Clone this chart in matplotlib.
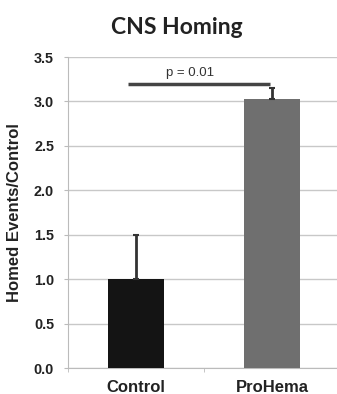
import matplotlib
matplotlib.use("Agg")
import matplotlib.pyplot as plt

categories = ["Control", "ProHema"]
values = [1.0, 3.03]
err_upper = [0.5, 0.12]
p_label = "p = 0.01"
p_level = 3.2

plt.rcParams["font.family"] = ["Liberation Sans", "DejaVu Sans"]

fig = plt.figure(figsize=(3.37, 3.94), dpi=100)
ax = fig.add_axes([68 / 337, 26 / 394, 272 / 337, 311 / 394])

x = list(range(len(categories)))
ax.bar(x, values, width=0.41, color=["#141414", "#6f6f6f"], zorder=3)
ax.errorbar(x, values, yerr=[[0, 0], err_upper], fmt="none",
            ecolor="#333333", elinewidth=2, capsize=2, capthick=1.5, zorder=4)

# significance bracket
ax.plot([-0.06, 0.985], [p_level, p_level], color="#444444", lw=2.5,
        solid_capstyle="butt", zorder=4)
ax.text(0.40, p_level + 0.12, p_label, ha="center", va="center",
        fontsize=9.5, color="#333333")

ax.set_xlim(-0.5, 1.5)
ax.set_ylim(0, 3.5)
ax.set_yticks([0, 0.5, 1.0, 1.5, 2.0, 2.5, 3.0, 3.5])
ax.set_yticklabels([f"{v:.1f}" for v in ax.get_yticks()],
                   fontsize=10.4, fontweight="bold", color="#222222")
ax.set_xticks(x)
ax.set_xticklabels(categories, fontsize=12, fontweight="bold", color="#222222")
ax.set_xticks([-0.5, 0.5, 1.5], minor=True)
ax.tick_params(axis="x", which="major", length=0, pad=9)
ax.tick_params(axis="x", which="minor", length=3, color="#bbbbbb")
ax.tick_params(axis="y", length=3, color="#bbbbbb", pad=7)

ax.grid(axis="y", color="#c8c8c8", lw=1, zorder=0)
for s in ["top", "right"]:
    ax.spines[s].set_visible(False)
for s in ["left", "bottom"]:
    ax.spines[s].set_color("#bbbbbb")

ax.set_ylabel("Homed Events/Control", fontsize=12, fontweight="bold",
              color="#222222")
ax.yaxis.set_label_coords(-46 / 272, 0.5)

fig.text(177 / 337, 1 - 27 / 394, "CNS Homing", ha="center", va="center",
         fontsize=16.5, fontweight="bold", family=["Lato", "DejaVu Sans"],
         color="#222222")

fig.savefig("out.png", dpi=100)
